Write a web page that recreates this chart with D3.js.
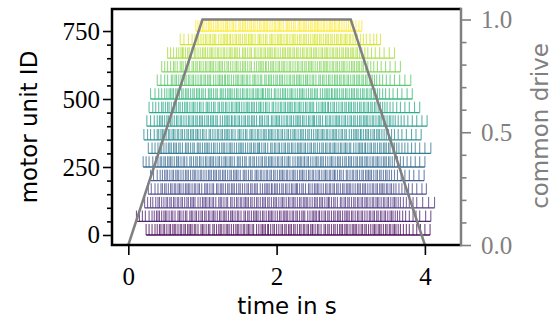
<!DOCTYPE html>
<html>
<head>
<meta charset="utf-8">
<script src="https://cdn.jsdelivr.net/npm/d3@7"></script>
<style>
  body { margin: 0; background: #fff; }
  svg { display: block; }
</style>
</head>
<body>
<div id="chart"></div>
<script>
// one row of spikes every 50 motor units
var unitIds = [0, 50, 100, 150, 200, 250, 300, 350, 400, 450, 500, 550, 600, 650, 700, 750]
// first spike of each row, in s
var onsetTimes = [0.24, 0.11, 0.22, 0.27, 0.30, 0.20, 0.27, 0.21, 0.25, 0.28, 0.30, 0.39, 0.45, 0.53, 0.70, 0.91]
var isiStrings = [
  '4443 3232332322 3323232223 2342233242 3322332233 3223323223 2433222313 3233323232 2323323232 3213323423 2332332232 2332223323 2333223223 3232322 3344455567',
  '44454 3322332233 2342233242 2323323232 3223323223 3213323423 2332223323 3222333232 2233232332 2433222313 3232332322 3322232332 3233323232 323233223 3344554587',
  '4434 3233323232 3232332322 2433222313 2342233242 3323232223 2332332232 3322332233 2322332322 2333223223 3213323423 2323323232 3223323223 32323322 3344455888',
  '4544 2323323232 2332223323 2342233242 3223323223 3233323232 2433222313 2233232332 3213323423 3222333232 3232332322 2333223223 3323232223 232 3344455676',
  '4543 3223323223 3322332233 2333223223 2322332322 2342233242 2323323232 3322232332 2332223323 2332332232 3213323423 3232332322 2233232332 3344556677',
  '4454 3323232223 3213323423 3232332322 2332332232 2342233242 3233323232 2233232332 2433222313 2333223223 3322332233 2322332322 3223323223 32232 3344455667',
  '5443 2333223223 2342233242 2332223323 3322332233 3222333232 3213323423 2323323232 3322232332 3233323232 3223323223 2433222313 3232332322 3242 3344455678',
  '5454 2322332322 3232332322 3213323423 3323232223 2342233242 2332332232 2233232332 3322332233 2333223223 2332223323 2433222313 3223323223 3 3344556767',
  '5543 2233232332 3233323232 3223323223 2433222313 2323323232 2342233242 3222333232 3322232332 3213323423 2332223323 3232332322 2332332232 332 3344456677',
  '5444 2332332232 3322332233 2342233242 3232332322 2333223223 3213323423 3323232223 2322332322 2433222313 3233323232 2323323232 3232333 3344556677',
  '6544 3322232332 3223323223 2342233242 2332223323 3232332322 3213323423 3322332233 3222333232 2433222313 2233232332 2323323232 32 3344556677',
  '5545 2323323232 3233323232 2433222313 2333223223 2342233242 3223323223 3323232223 3213323423 2332332232 3232332322 3232322 3344556778',
  '4444 2342233242 3232332322 2332223323 3322332233 2433222313 3223323223 3233323232 3222333232 2233232332 2333223223 2 3344556677',
  '4443 3213323423 3322332233 2332332232 2342233242 3323232223 2333223223 2323323232 3223323223 3232332322 32232 3344556677',
  '5654 3233323232 2433222313 3232332322 2342233242 2332223323 3223323223 3322232332 2323323232 232 3334445545',
  '3332 3322332233 3213323423 2233232332 3222333232 2342233242 2322332322 2332332232 3233 3333444'
]
var driveTime = [0, 1, 3, 4]
var driveLevel = [0, 1, 1, 0]
var xTicks = [0, 2, 4]
var idTicks = [0, 250, 500, 750]
var idMinorTicks = [50, 100, 150, 200, 300, 350, 400, 450, 550, 600, 650, 700]
var driveTicks = [0, 0.5, 1.0]
var driveMinorTicks = [0.1, 0.2, 0.3, 0.4, 0.6, 0.7, 0.8, 0.9]

var width = 553, height = 327
var plotLeft = 112, plotRight = 461, plotTop = 9, plotBottom = 245
var spikeHeight = 40
var serif = "'Liberation Serif', 'Times New Roman', serif"
var sans = "'DejaVu Sans', sans-serif"

var svg = d3.select('#chart').append('svg')
            .attr('width', width)
            .attr('height', height)

var x = d3.scaleLinear().domain([-0.22, 4.487]).range([plotLeft, plotRight])
var y = d3.scaleLinear().domain([-36.8, 831]).range([plotBottom, plotTop])
var yDrive = d3.scaleLinear().domain([0, 1.0466]).range([plotBottom, plotTop])
var color = d3.scaleSequential(d3.interpolateViridis).domain([0, 750])

var rows = unitIds.map(function(id, i) {
  var t = onsetTimes[i]
  var times = [t]
  isiStrings[i].replace(/\s/g, '').split('').forEach(function(c) {
    t += (+c) * 0.01
    times.push(t)
  })
  return {id: id, times: times}
})

var raster = svg.append('g')
var rowG = raster.selectAll('g.row')
                 .data(rows)
                 .enter().append('g')
                 .attr('class', 'row')
                 .attr('stroke', function(d) { return color(d.id) })

rowG.selectAll('line.spike')
    .data(function(d) { return d.times.map(function(t) { return {t: t, id: d.id} }) })
    .enter().append('line')
    .attr('class', 'spike')
    .attr('x1', function(d) { return x(d.t) })
    .attr('x2', function(d) { return x(d.t) })
    .attr('y1', function(d) { return y(d.id) })
    .attr('y2', function(d) { return y(d.id + spikeHeight) })
    .attr('stroke-width', 1.1)
    .attr('stroke-opacity', 0.72)

rowG.append('line')
    .attr('x1', function(d) { return x(d.times[0]) })
    .attr('x2', function(d) { return x(d.times[d.times.length - 1]) })
    .attr('y1', function(d) { return y(d.id) })
    .attr('y2', function(d) { return y(d.id) })
    .attr('stroke-width', 1.3)
    .attr('stroke-opacity', 0.95)

// common drive
var drive = d3.line()
              .x(function(d) { return x(d[0]) })
              .y(function(d) { return yDrive(d[1]) })
svg.append('path')
   .datum(driveTime.map(function(t, i) { return [t, driveLevel[i]] }))
   .attr('d', drive)
   .attr('fill', 'none')
   .attr('stroke', '#808080')
   .attr('stroke-width', 2.5)

// axes
function styleAxis(g, col, size) {
  g.select('.domain').remove()
  g.selectAll('line').attr('stroke', col).attr('stroke-width', 1.6)
  g.selectAll('text').attr('fill', col).style('font-family', serif).style('font-size', size + 'px')
}

var gx = svg.append('g').attr('transform', 'translate(0,' + plotBottom + ')')
            .call(d3.axisBottom(x).tickValues(xTicks).tickFormat(d3.format('d')).tickSize(10).tickPadding(12))
styleAxis(gx, '#000', 25)

var gy = svg.append('g').attr('transform', 'translate(' + plotLeft + ',0)')
            .call(d3.axisLeft(y).tickValues(idTicks).tickFormat(d3.format('d')).tickSize(9).tickPadding(3))
styleAxis(gy, '#000', 25)
svg.append('g').attr('transform', 'translate(' + plotLeft + ',0)')
   .call(d3.axisLeft(y).tickValues(idMinorTicks).tickFormat('').tickSize(5))
   .call(function(g) { styleAxis(g, '#000', 25) })

var gr = svg.append('g').attr('transform', 'translate(' + plotRight + ',0)')
            .call(d3.axisRight(yDrive).tickValues(driveTicks).tickFormat(d3.format('.1f')).tickSize(10).tickPadding(10))
styleAxis(gr, '#808080', 25)
svg.append('g').attr('transform', 'translate(' + plotRight + ',0)')
   .call(d3.axisRight(yDrive).tickValues(driveMinorTicks).tickFormat('').tickSize(5.5))
   .call(function(g) { styleAxis(g, '#808080', 25) })

// spines
svg.append('path')
   .attr('d', 'M' + plotRight + ',' + plotTop + 'H' + plotLeft + 'V' + plotBottom + 'H' + plotRight)
   .attr('fill', 'none')
   .attr('stroke', '#000')
   .attr('stroke-width', 2.5)
svg.append('line')
   .attr('x1', plotRight).attr('x2', plotRight)
   .attr('y1', plotTop - 1.25).attr('y2', plotBottom + 1.25)
   .attr('stroke', '#808080')
   .attr('stroke-width', 2.5)

// titles
svg.append('text')
   .attr('transform', 'translate(287,314)')
   .attr('text-anchor', 'middle')
   .style('font-family', sans).style('font-size', '23px')
   .text('time in s')
svg.append('text')
   .attr('transform', 'translate(37,127) rotate(-90)')
   .attr('text-anchor', 'middle')
   .style('font-family', sans).style('font-size', '23px')
   .text('motor unit ID')
svg.append('text')
   .attr('transform', 'translate(548,126) rotate(-90)')
   .attr('text-anchor', 'middle')
   .attr('fill', '#808080')
   .style('font-family', sans).style('font-size', '23px')
   .text('common drive')
</script>
</body>
</html>
